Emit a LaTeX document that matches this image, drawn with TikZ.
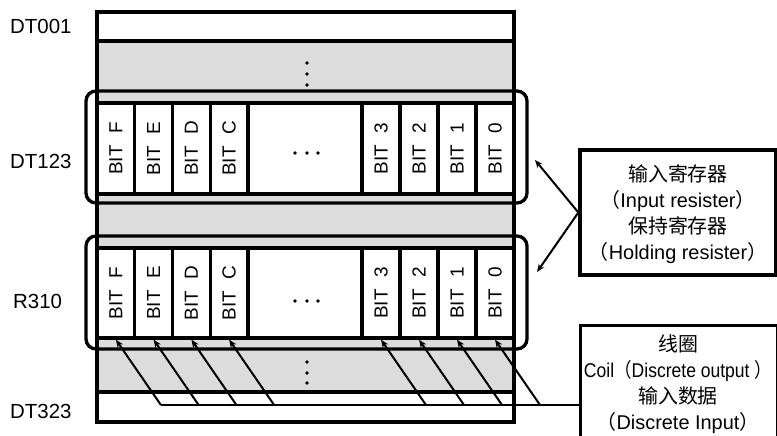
\documentclass[tikz,border=0pt]{standalone}
\usepackage{fontspec}
\setmainfont{Liberation Sans}
\newfontfamily\cjk{Noto Sans CJK SC}
\usetikzlibrary{arrows.meta}
\definecolor{regray}{HTML}{DCDCDC}
\begin{document}
\begin{tikzpicture}[x=1bp,y=-1bp,
  thickline/.style={line width=3.3bp},
  cell/.style={draw, line width=3.3bp, fill=white, inner sep=0pt,
    minimum height=#1, font=\fontsize{19}{21}\selectfont},
  rowbox/.style={draw, line width=3.3bp, fill=white, inner sep=0pt,
    minimum width=417bp},
  bracketbox/.style={draw, line width=3.3bp, rounded corners=10bp,
    inner sep=0pt, minimum width=441bp},
  sidebox/.style={draw, line width=3.3bp, inner sep=0pt, fill=white},
  lbl/.style={anchor=west, inner sep=0pt, font=\fontsize{20.5}{24}\selectfont},
  boxtext/.style={align=center, inner sep=0pt, font=\fontsize{20}{26}\selectfont},
  arr/.style={line width=2bp, -{Stealth[length=8bp,width=6.5bp]}},
  connline/.style={line width=2bp},
  dotc/.style={fill=black, draw=none}
]
\useasboundingbox (0,0) rectangle (777,436);

% grey body
\fill[regray] (97,41) rectangle (514,392);

% white top and bottom rows
\node[rowbox, minimum height=29bp] (row001) at (305.5,26.5) {};
\node[rowbox, minimum height=30bp] (row323) at (305.5,407) {};
% outer frame
\node[draw, thickline, inner sep=0pt, minimum width=417bp, minimum height=410bp] (frame) at (305.5,217) {};

% bit cells
\foreach \n/\cx/\w in {F/115.9/37.75bp, E/153.6/37.75bp, D/191.4/37.75bp, C/229.1/37.75bp,
                       3/381/38bp, 2/419/38bp, 1/457/38bp, 0/495/38bp}{
  \node[cell=91bp, minimum width=\w] (a\n) at (\cx,148.5) {\rotatebox{90}{BIT\hspace{0.6em}\n}};
  \node[cell=90bp, minimum width=\w] (b\n) at (\cx,293) {\rotatebox{90}{BIT\hspace{0.6em}\n}};
}
\node[cell=91bp, minimum width=114bp] (amid) at (305,148.5) {};
\node[cell=90bp, minimum width=114bp] (bmid) at (305,293) {};

% horizontal dots
\foreach \dx in {295,307,318}{
  \fill[dotc] (\dx,153) circle (1.9bp);
  \fill[dotc] (\dx,301) circle (1.9bp);
}
% vertical dots
\foreach \dy in {63,74,85,362,373,383}{
  \fill[dotc] (307,\dy) circle (1.9bp);
}

% brackets
\node[bracketbox, minimum height=112bp] (brA) at (306.5,147) {};
\node[bracketbox, minimum height=113bp] (brB) at (306.5,292.5) {};

% left labels
\node[lbl] (lDT001) at (10,26) {DT001};
\node[lbl] (lDT123) at (10,161) {DT123};
\node[lbl] (lR310) at (13,301) {R310};
\node[lbl] (lDT323) at (10,411) {DT323};

% right boxes
\node[sidebox, minimum width=196bp, minimum height=125bp] (box1) at (678,212.5) {};
\node[boxtext] (t1) at (678,214) {{\cjk 输入寄存器}\\{\cjk （}Input resister{\cjk ）}\\{\cjk 保持寄存器}\\{\cjk （}Holding resister{\cjk ）}};
\node[sidebox, minimum width=197bp, minimum height=150bp, anchor=north west] (box2) at (579,324) {};
\node[boxtext] (t2) at (678,384) {{\cjk 线圈}\\\scalebox{0.88}[1]{Coil{\cjk （}Discrete output {\cjk ）}}\\{\cjk 输入数据}\\{\cjk （}Discrete Input{\cjk ）}};

% arrows to brackets
\coordinate (tipA) at (535,160);
\coordinate (tipB) at (537,272);
\draw[arr] (box1.west) -- (tipA);
\draw[arr] (box1.west) -- (tipB);

% coil / discrete input arrows
\foreach \n/\cx in {F/115.9, E/153.6, D/191.4, C/229.1, 3/381, 2/419, 1/457, 0/495}{
  \coordinate (c\n) at (\cx+45,405);
  \draw[arr] (c\n) -- (b\n.south);
}
\draw[connline] (cF) -- (cF -| box2.west);
\end{tikzpicture}
\end{document}
